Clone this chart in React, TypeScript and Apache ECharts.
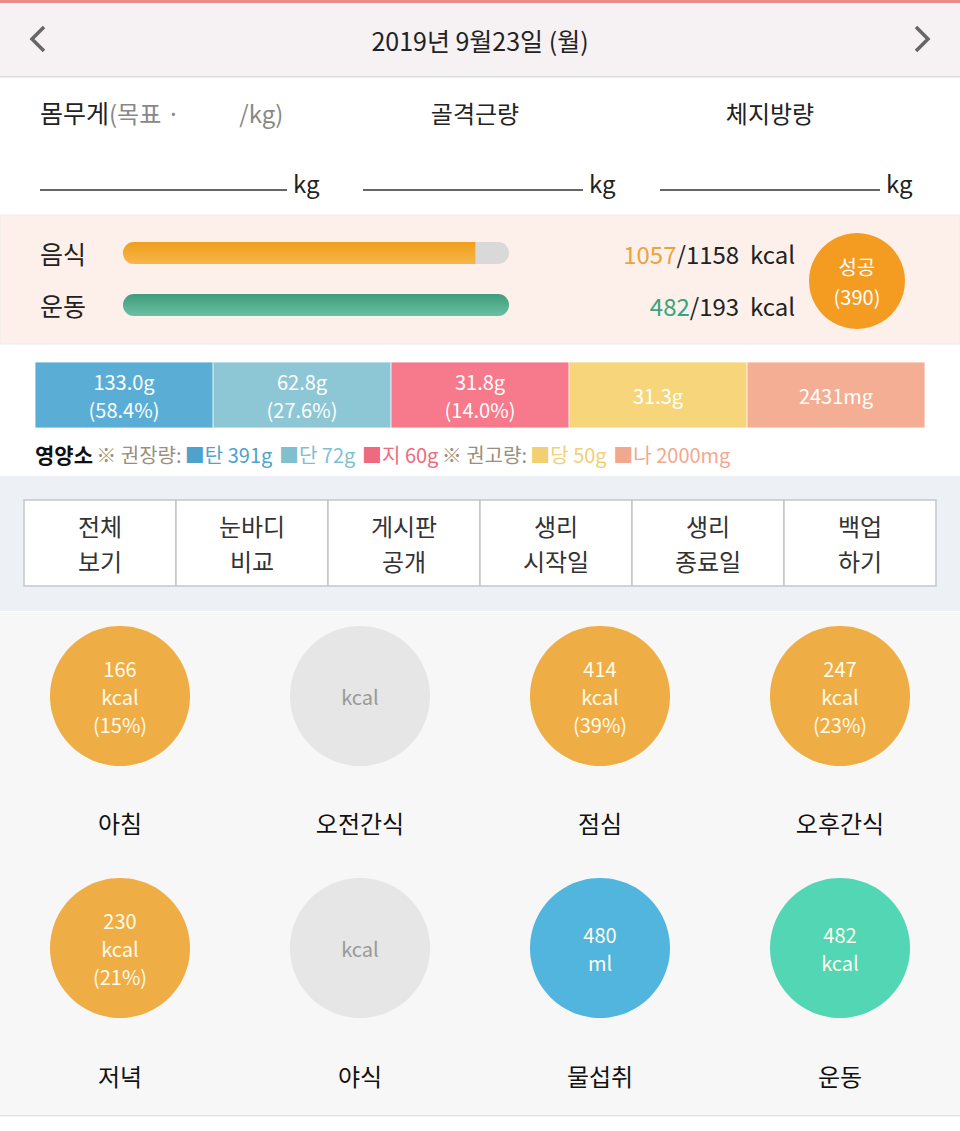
import React, { useEffect, useRef } from 'react';
import * as echarts from 'echarts';

// ---------- data ----------
const dateTitle = '2019년 9월23일 (월)';
const bodyLabels = ['몸무게', '골격근량', '체지방량'];
const calorieRows = ['음식', '운동'];
const calorieValues = [1057, 482];
const calorieTargets = [1158, 193];
const nutrientNames = ['탄', '단', '지', '당', '나'];
const nutrientValues = [133.0, 62.8, 31.8, 31.3, 2431];
const nutrientUnits = ['g', 'g', 'g', 'g', 'mg'];
const nutrientPercents: (number | null)[] = [58.4, 27.6, 14.0, null, null];
const nutrientGuides = [391, 72, 60, 50, 2000];
const menuButtons = ['전체\n보기', '눈바디\n비교', '게시판\n공개', '생리\n시작일', '생리\n종료일', '백업\n하기'];
const mealNames = ['아침', '오전간식', '점심', '오후간식', '저녁', '야식', '물섭취', '운동'];
const mealValues: (number | null)[] = [166, null, 414, 247, 230, null, 480, 482];
const mealUnits = ['kcal', 'kcal', 'kcal', 'kcal', 'kcal', 'kcal', 'ml', 'kcal'];
const mealPercents: (number | null)[] = [15, null, 39, 23, 21, null, null, null];

// ---------- styles ----------
const FONT = '"Noto Sans CJK KR", "Noto Sans", sans-serif';
const nutrientColors = ['#5aaed5', '#8dc7d5', '#f67a8b', '#f6d57b', '#f4ae94'];
const nutrientTextColors = ['#4ea3cc', '#7fbfce', '#ee6a7e', '#f2cf72', '#f2a88c'];
const mealColors = ['#efad45', '#e6e6e6', '#efad45', '#efad45', '#efad45', '#e6e6e6', '#52b5de', '#52d6b4'];
const calColors = ['#e8a53c', '#3aa37e'];

export default function App() {
  const ref = useRef<HTMLDivElement>(null);
  useEffect(() => {
    document.body.style.margin = '0';
    if (!ref.current) return;
    const chart = echarts.init(ref.current, null, { renderer: 'svg' });

    const surplus = (calorieTargets[0] - calorieValues[0]) + (calorieValues[1] - calorieTargets[1]);
    const cellW = 912 / menuButtons.length;

    const graphics: any[] = [
      // backgrounds
      { type: 'rect', shape: { x: 0, y: 0, width: 960, height: 76 }, style: { fill: '#f6f1f3' }, z: -10 },
      { type: 'rect', shape: { x: 0, y: 0, width: 960, height: 3 }, style: { fill: '#e98a8a' }, z: -9 },
      { type: 'rect', shape: { x: 0, y: 76, width: 960, height: 1.5 }, style: { fill: '#dcdcdc' }, z: -9 },
      { type: 'rect', shape: { x: 0, y: 215, width: 960, height: 129 }, style: { fill: '#fdf0ea', stroke: '#ececec', lineWidth: 1 }, z: -10 },
      { type: 'rect', shape: { x: 0, y: 476, width: 960, height: 135 }, style: { fill: '#edf0f5' }, z: -10 },
      { type: 'rect', shape: { x: 0, y: 612, width: 960, height: 503 }, style: { fill: '#f7f7f7' }, z: -10 },
      { type: 'rect', shape: { x: 0, y: 1115, width: 960, height: 1.5 }, style: { fill: '#e2e2e2' }, z: -9 },
      // header
      { type: 'polyline', shape: { points: [[44, 27], [32, 39], [44, 51]] }, style: { stroke: '#666', lineWidth: 3.5, fill: null } },
      { type: 'polyline', shape: { points: [[916, 27], [928, 39], [916, 51]] }, style: { stroke: '#666', lineWidth: 3.5, fill: null } },
      { type: 'text', x: 480, y: 40, style: { text: dateTitle, font: `25px ${FONT}`, fill: '#222', align: 'center', verticalAlign: 'middle' } },
      // body composition
      {
        type: 'text', x: 40, y: 112,
        style: {
          text: `{b|${bodyLabels[0]}}{g|(목표 ·           /kg)}`, verticalAlign: 'middle',
          rich: { b: { font: `25px ${FONT}`, fill: '#222' }, g: { font: `24px ${FONT}`, fill: '#888' } },
        },
      },
      { type: 'text', x: 475, y: 112, style: { text: bodyLabels[1], font: `24px ${FONT}`, fill: '#222', align: 'center', verticalAlign: 'middle' } },
      { type: 'text', x: 770, y: 112, style: { text: bodyLabels[2], font: `24px ${FONT}`, fill: '#222', align: 'center', verticalAlign: 'middle' } },
      ...[[40, 287], [363, 583], [660, 880]].flatMap(([a, b]) => [
        { type: 'line', shape: { x1: a, y1: 190, x2: b, y2: 190 }, style: { stroke: '#333', lineWidth: 1.5 } },
        { type: 'text', x: b + 6, y: 182, style: { text: 'kg', font: `24px ${FONT}`, fill: '#222', verticalAlign: 'middle' } },
      ]),
      // success circle
      { type: 'circle', shape: { cx: 857, cy: 281, r: 48 }, style: { fill: '#f49b22' } },
      { type: 'text', x: 857, y: 281, style: { text: `성공\n(${surplus})`, font: `20px ${FONT}`, lineHeight: 30, fill: '#fff', align: 'center', verticalAlign: 'middle' } },
      // nutrient legend line
      {
        type: 'text', x: 35, y: 454,
        style: {
          verticalAlign: 'middle',
          text:
            `{h|영양소} {n|※ 권장량:} {c0|■${nutrientNames[0]} ${nutrientGuides[0]}g}  {c1|■${nutrientNames[1]} ${nutrientGuides[1]}g}  {c2|■${nutrientNames[2]} ${nutrientGuides[2]}g} {n|※ 권고량:} {c3|■${nutrientNames[3]} ${nutrientGuides[3]}g}  {c4|■${nutrientNames[4]} ${nutrientGuides[4]}mg}`,
          rich: {
            h: { font: `bold 21px ${FONT}`, fill: '#111' },
            n: { font: `20px ${FONT}`, fill: '#9a8f7a' },
            c0: { font: `20px ${FONT}`, fill: nutrientTextColors[0] },
            c1: { font: `20px ${FONT}`, fill: nutrientTextColors[1] },
            c2: { font: `20px ${FONT}`, fill: nutrientTextColors[2] },
            c3: { font: `20px ${FONT}`, fill: nutrientTextColors[3] },
            c4: { font: `20px ${FONT}`, fill: nutrientTextColors[4] },
          },
        },
      },
      // menu table
      ...menuButtons.flatMap((label, i) => [
        { type: 'rect', shape: { x: 24 + i * cellW, y: 500, width: cellW, height: 86 }, style: { fill: '#fff', stroke: '#c3c6ca', lineWidth: 1.5 } },
        { type: 'text', x: 24 + i * cellW + cellW / 2, y: 543, style: { text: label, font: `24px ${FONT}`, lineHeight: 35, fill: '#333', align: 'center', verticalAlign: 'middle' } },
      ]),
    ];

    const mealLabel = (i: number) => {
      const v = mealValues[i];
      if (v == null) return mealUnits[i];
      const p = mealPercents[i];
      return p != null ? `${v}\n${mealUnits[i]}\n(${p}%)` : `${v}\n${mealUnits[i]}`;
    };
    const mealData = (from: number) =>
      mealNames.slice(from, from + 4).map((n, k) => {
        const i = from + k;
        return {
          value: [n, 0],
          itemStyle: { color: mealColors[i], opacity: 1 },
          label: { color: mealValues[i] == null ? '#999' : '#fffbea', formatter: mealLabel(i) },
        };
      });

    const hiddenAxis = { show: false, axisLine: { show: false }, axisTick: { show: false }, splitLine: { show: false } };
    const mealX = (gi: number, from: number, margin: number) => ({
      type: 'category', gridIndex: gi, data: mealNames.slice(from, from + 4), boundaryGap: true,
      axisLine: { show: false }, axisTick: { show: false }, splitLine: { show: false },
      axisLabel: { margin, fontSize: 24, color: '#111', fontFamily: FONT },
    });

    const mealLabelStyle = { show: true, position: 'inside', fontSize: 20, lineHeight: 28, fontFamily: FONT };

    chart.setOption({
      animation: false,
      backgroundColor: '#ffffff',
      textStyle: { fontFamily: FONT },
      graphic: { elements: graphics },
      grid: [
        { left: 123, top: 227, width: 386, height: 104 },
        { left: 35, top: 362, width: 890, height: 66 },
        { left: 0, top: 626, width: 960, height: 140 },
        { left: 0, top: 878, width: 960, height: 140 },
      ],
      xAxis: [
        { type: 'value', gridIndex: 0, min: 0, max: 1, ...hiddenAxis },
        { type: 'category', gridIndex: 1, data: nutrientNames, ...hiddenAxis },
        mealX(2, 0, 44),
        mealX(3, 4, 45),
      ],
      yAxis: [
        {
          type: 'category', gridIndex: 0, data: calorieRows, inverse: true,
          axisLine: { show: false }, axisTick: { show: false },
          axisLabel: { align: 'left', margin: 83, fontSize: 25, color: '#222', fontFamily: FONT },
        },
        {
          type: 'category', gridIndex: 0, data: calorieRows, inverse: true, position: 'right',
          axisLine: { show: false }, axisTick: { show: false },
          axisLabel: {
            align: 'right', margin: 286, fontFamily: FONT,
            formatter: (_v: string, idx: number) => `{c${idx}|${calorieValues[idx]}}{k|/${calorieTargets[idx]}  kcal}`,
            rich: {
              c0: { fontSize: 24, color: calColors[0], fontFamily: FONT },
              c1: { fontSize: 24, color: calColors[1], fontFamily: FONT },
              k: { fontSize: 24, color: '#222', fontFamily: FONT },
            },
          },
        },
        { type: 'value', gridIndex: 1, min: 0, max: 1, ...hiddenAxis },
        { type: 'value', gridIndex: 2, min: -1, max: 1, ...hiddenAxis },
        { type: 'value', gridIndex: 3, min: -1, max: 1, ...hiddenAxis },
      ],
      series: [
        {
          type: 'bar', xAxisIndex: 0, yAxisIndex: 0, barWidth: 22,
          showBackground: true,
          backgroundStyle: { color: '#d9d9d9', borderRadius: 11 },
          data: calorieValues.map((v, i) => {
            const r = Math.min(v / calorieTargets[i], 1);
            return {
              value: r,
              itemStyle: {
                borderRadius: r >= 1 ? 11 : [11, 0, 0, 11],
                color: new echarts.graphic.LinearGradient(0, 0, 0, 1, i === 0
                  ? [{ offset: 0, color: '#ee9f1c' }, { offset: 1, color: '#f7b64a' }]
                  : [{ offset: 0, color: '#3f9c7c' }, { offset: 1, color: '#69c0a2' }]),
              },
            };
          }),
        },
        {
          type: 'bar', xAxisIndex: 1, yAxisIndex: 2, barCategoryGap: 0,
          data: nutrientNames.map((_n, i) => ({
            value: 1,
            itemStyle: { color: nutrientColors[i], borderColor: 'rgba(255,255,255,0.6)', borderWidth: 0.5 },
          })),
          label: {
            show: true, position: 'inside', color: '#fff', fontSize: 20, lineHeight: 28, fontFamily: FONT,
            formatter: (p: any) => {
              const i = p.dataIndex;
              const v = nutrientUnits[i] === 'mg' ? `${nutrientValues[i]}` : nutrientValues[i].toFixed(1);
              const pc = nutrientPercents[i];
              return pc != null ? `${v}${nutrientUnits[i]}\n(${pc.toFixed(1)}%)` : `${v}${nutrientUnits[i]}`;
            },
          },
        },
        {
          type: 'scatter', xAxisIndex: 2, yAxisIndex: 3, symbolSize: 140, symbol: 'circle',
          itemStyle: { opacity: 1 },
          data: mealData(0),
          label: mealLabelStyle,
        },
        {
          type: 'scatter', xAxisIndex: 3, yAxisIndex: 4, symbolSize: 140, symbol: 'circle',
          itemStyle: { opacity: 1 },
          data: mealData(4),
          label: mealLabelStyle,
        },
      ],
    });
    return () => chart.dispose();
  }, []);
  return <div ref={ref} style={{ width: 960, height: 1131 }} />;
}
